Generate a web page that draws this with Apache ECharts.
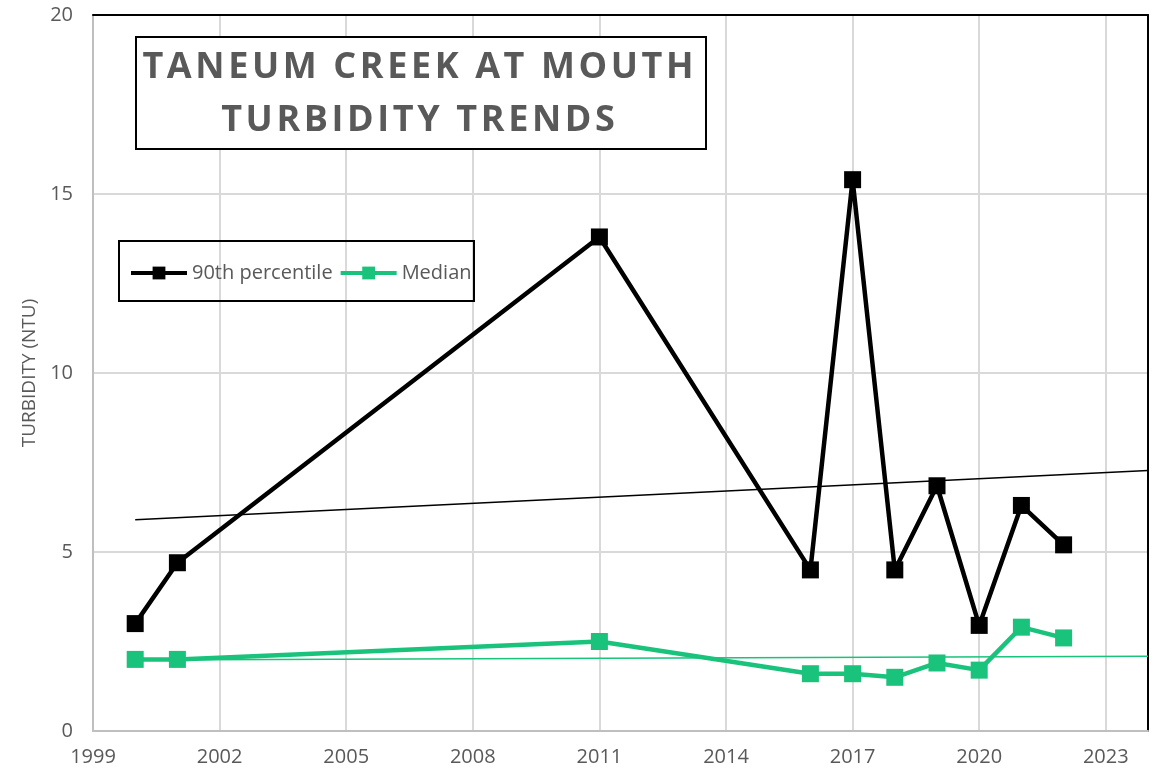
<!DOCTYPE html>
<html>
<head>
<meta charset="utf-8">
<script src="https://cdn.jsdelivr.net/npm/echarts@6/dist/echarts.min.js"></script>
<style>
html, body { margin: 0; padding: 0; background: #fff; }
#main { width: 1161px; height: 775px; }
</style>
</head>
<body>
<div id="main"></div>
<script>
// data
var years = [2000, 2001, 2011, 2016, 2017, 2018, 2019, 2020, 2021, 2022];
var pct90 = [3.0, 4.7, 13.8, 4.5, 15.4, 4.5, 6.85, 2.95, 6.3, 5.2];
var median = [2.0, 2.0, 2.5, 1.6, 1.6, 1.5, 1.9, 1.7, 2.9, 2.6];
// linear trend lines (end points)
var trendYears = [2000, 2024];
var trend90 = [5.9, 7.28];
var trendMed = [1.98, 2.09];

var baseYear = 1999; // axis starts here, ticks every 3 years

function pairs(xs, ys) {
    var out = [];
    for (var i = 0; i < xs.length; i++) {
        out.push([xs[i] - baseYear, ys[i]]);
    }
    return out;
}

// title letters spaced out a little (hair spaces)
function spaced(s) {
    return s.split('').join('\u200A');
}

var chart = echarts.init(document.getElementById('main'));
var grey = '#595959';
var green = '#19c37b';
var font = 'Open Sans';

chart.setOption({
    animation: false,
    grid: {
        left: 93, right: 13, top: 15, bottom: 44
    },
    legend: {
        data: ['90th percentile', 'Median'],
        left: 124, top: 258,
        itemWidth: 56, itemHeight: 16, itemGap: 6,
        lineStyle: { width: 4 },
        textStyle: { color: grey, fontSize: 20, fontFamily: font }
    },
    xAxis: [
        {
            type: 'value',
            min: 0, max: 2024 - baseYear, interval: 3,
            axisLine: { show: true, onZero: false, lineStyle: { color: '#bfbfbf', width: 2 } },
            axisTick: { show: false },
            splitLine: { show: true, lineStyle: { color: '#d9d9d9', width: 2 } },
            axisLabel: {
                color: grey, fontSize: 20, fontFamily: font, margin: 16,
                showMaxLabel: false,
                formatter: function (v) { return String(v + baseYear); }
            }
        },
        {
            // top border of the plot
            type: 'value', position: 'top',
            min: 0, max: 2024 - baseYear,
            axisLine: { show: true, onZero: false, lineStyle: { color: '#000', width: 2 } },
            axisTick: { show: false }, axisLabel: { show: false },
            splitLine: { show: false }
        }
    ],
    yAxis: [
        {
            type: 'value',
            min: 0, max: 20, interval: 5,
            name: 'TURBIDITY (NTU)',
            nameLocation: 'middle', nameGap: 52,
            nameTextStyle: { color: grey, fontSize: 19, fontFamily: font },
            axisLine: { show: true, onZero: false, lineStyle: { color: '#bfbfbf', width: 2 } },
            axisTick: { show: false },
            splitLine: { show: true, lineStyle: { color: '#d9d9d9', width: 2 } },
            axisLabel: { color: grey, fontSize: 20, fontFamily: font, margin: 20 }
        },
        {
            // right border of the plot
            type: 'value', position: 'right',
            min: 0, max: 20,
            axisLine: { show: true, onZero: false, lineStyle: { color: '#000', width: 2 } },
            axisTick: { show: false }, axisLabel: { show: false },
            splitLine: { show: false }
        }
    ],
    series: [
        {
            name: 'trend90',
            type: 'line',
            data: pairs(trendYears, trend90),
            symbol: 'none',
            lineStyle: { color: '#000', width: 1.5 },
            z: 1
        },
        {
            name: 'trendMed',
            type: 'line',
            data: pairs(trendYears, trendMed),
            symbol: 'none',
            lineStyle: { color: green, width: 1.5 },
            z: 1
        },
        {
            name: '90th percentile',
            type: 'line',
            data: pairs(years, pct90),
            symbol: 'rect',
            symbolSize: 17,
            itemStyle: { color: '#000' },
            lineStyle: { color: '#000', width: 4.5 },
            z: 3
        },
        {
            name: 'Median',
            type: 'line',
            data: pairs(years, median),
            symbol: 'rect',
            symbolSize: 17,
            itemStyle: { color: green },
            lineStyle: { color: green, width: 4.5 },
            z: 3
        }
    ],
    graphic: [
        {
            type: 'rect',
            shape: { x: 136, y: 37, width: 570, height: 112 },
            style: { fill: '#fff', stroke: '#000', lineWidth: 2 },
            z: 10
        },
        {
            type: 'text',
            x: 418, y: 68,
            style: {
                text: spaced('TANEUM CREEK AT MOUTH'),
                fill: grey, font: 'bold 36px "Open Sans"',
                align: 'center', verticalAlign: 'middle'
            },
            z: 11
        },
        {
            type: 'text',
            x: 418, y: 121,
            style: {
                text: spaced('TURBIDITY TRENDS'),
                fill: grey, font: 'bold 36px "Open Sans"',
                align: 'center', verticalAlign: 'middle'
            },
            z: 11
        },
        {
            type: 'rect',
            shape: { x: 119, y: 241, width: 355, height: 60 },
            style: { fill: 'rgba(255,255,255,0)', stroke: '#000', lineWidth: 2 },
            z: 10
        }
    ]
});

window.onresize = function () {
    chart.resize();
};
</script>
</body>
</html>
